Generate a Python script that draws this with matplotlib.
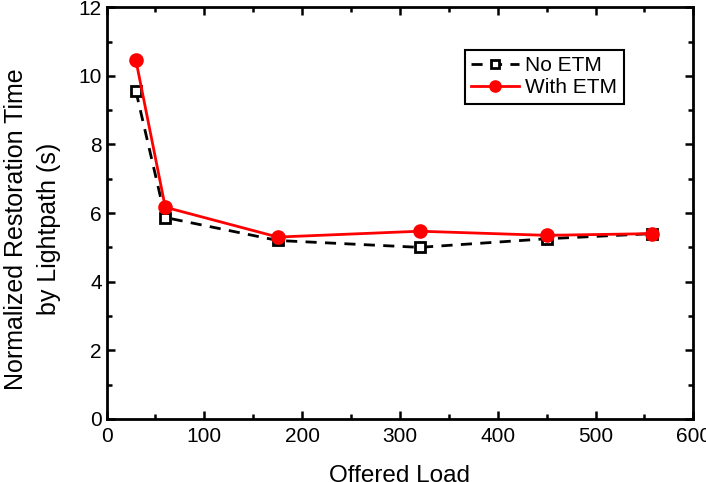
import matplotlib.pyplot as plt
from matplotlib.ticker import MultipleLocator

plt.rcParams['font.family'] = ['Liberation Sans', 'DejaVu Sans']

load = [30, 60, 175, 320, 450, 558]
no_etm = [9.55, 5.87, 5.2, 5.0, 5.25, 5.4]
with_etm = [10.45, 6.17, 5.3, 5.47, 5.35, 5.4]

fig = plt.figure(figsize=(7.06, 4.82), dpi=100)
ax = fig.add_axes([0.151, 0.131, 0.831, 0.854])

ax.plot(load, no_etm, color='black', linestyle='--', linewidth=2, dashes=(4, 3),
        marker='s', markersize=7, markerfacecolor='white', markeredgecolor='black',
        markeredgewidth=2, label='No ETM')
ax.plot(load, with_etm, color='red', linewidth=2, marker='o', markersize=9.5,
        label='With ETM')

ax.set_xlim(0, 600)
ax.set_ylim(0, 12)
ax.xaxis.set_major_locator(MultipleLocator(100))
ax.xaxis.set_minor_locator(MultipleLocator(50))
ax.yaxis.set_major_locator(MultipleLocator(2))
ax.yaxis.set_minor_locator(MultipleLocator(1))
ax.tick_params(which='both', direction='in', top=True, right=True, width=1.8, labelsize=15)
ax.tick_params(which='major', length=6)
ax.tick_params(which='minor', length=3.5)
ax.tick_params(axis='x', pad=6)
for s in ax.spines.values():
    s.set_linewidth(2)

ax.set_xlabel('Offered Load', fontsize=17.5)
ax.set_ylabel('Normalized Restoration Time\nby Lightpath (s)', fontsize=18, linespacing=1.45)
ax.xaxis.set_label_coords(0.5, -0.112)
ax.yaxis.set_label_coords(-0.078, 0.461)

leg = ax.legend(loc='upper left', bbox_to_anchor=(0.611, 0.896), fontsize=15,
                fancybox=False, framealpha=1, edgecolor='black', handlelength=2.3,
                borderpad=0.3, labelspacing=0.15, handletextpad=0.3, borderaxespad=0,
                markerscale=0.85)
leg.get_frame().set_linewidth(1.5)

fig.savefig('out.png', dpi=100)
